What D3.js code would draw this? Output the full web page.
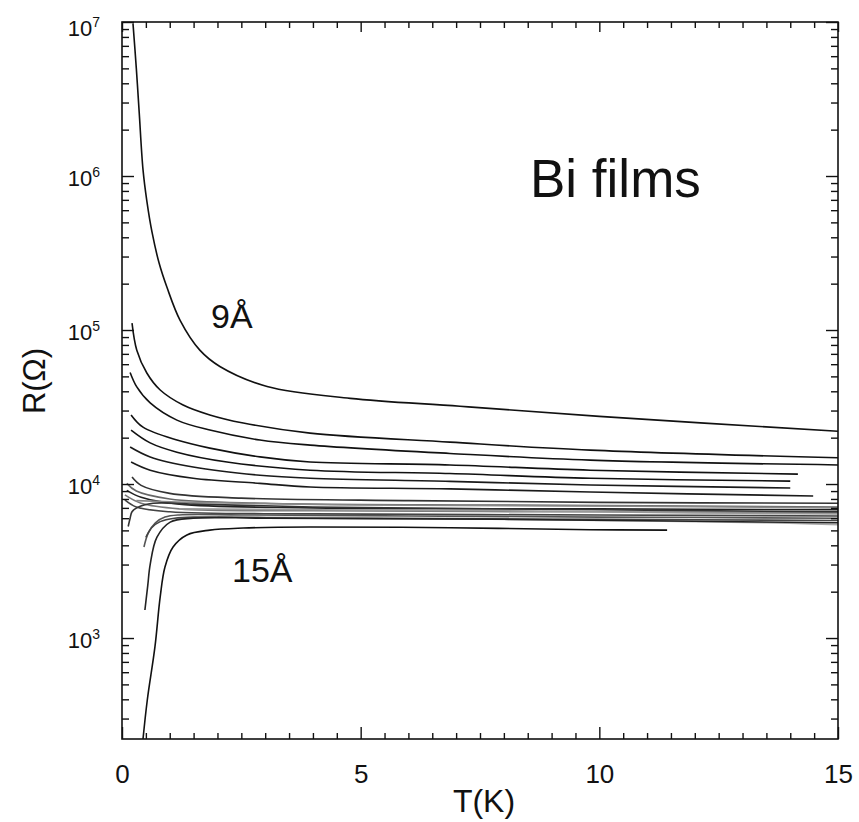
<!DOCTYPE html>
<html><head><meta charset="utf-8">
<script src="https://cdn.jsdelivr.net/npm/d3@7"></script>
<style>
body{margin:0;background:#fff}
svg{display:block}
text{font-family:"Liberation Sans",Arial,Helvetica,sans-serif;fill:#111}
</style>
</head><body>
<svg id="c" width="859" height="822"></svg>
<script>
// ---------------- DATA ----------------
const xMajorTicks = [0, 5, 10, 15];
const yDecades = [1e3, 1e4, 1e5, 1e6, 1e7];
const yExponents = ["3", "4", "5", "6", "7"];
const xLabel = "T(K)";
const yLabel = "R(Ω)";
const title = "Bi films";
const labelThin = "9Å";
const labelThick = "15Å";

// curves: temperature (K) and resistance (Ω)
const T_9A = [0.23, 0.30, 0.36, 0.44, 0.52, 0.63, 0.78, 0.94, 1.22, 1.63, 2.05, 3.04, 4.78, 7.08, 10, 15];
const R_9A = [9.8e6, 5.0e6, 2.6e6, 1.1e6, 6.9e5, 4.3e5, 2.7e5, 1.9e5, 1.15e5, 7.4e4, 5.8e4, 4.3e4, 3.6e4, 3.2e4, 2.75e4, 2.2e4];
const T_A = [0.21, 0.31, 0.52, 0.80, 1.28, 1.84, 2.54, 3.94, 6.87, 9.81, 15];
const R_A = [1.11e5, 7.4e4, 5.26e4, 4.08e4, 3.26e4, 2.81e4, 2.49e4, 2.14e4, 1.87e4, 1.66e4, 1.48e4];
const T_B = [0.17, 0.31, 0.59, 1.15, 1.84, 2.89, 3.94, 6.87, 9.81, 15];
const R_B = [5.3e4, 4.27e4, 3.36e4, 2.6e4, 2.24e4, 1.93e4, 1.79e4, 1.58e4, 1.43e4, 1.33e4];
const T_C = [0.19, 0.44, 1.15, 1.84, 2.89, 3.94, 6.87, 9.81, 14.16];
const R_C = [2.81e4, 2.34e4, 1.93e4, 1.71e4, 1.5e4, 1.39e4, 1.33e4, 1.23e4, 1.16e4];
const T_D = [0.19, 0.59, 1.15, 2.2, 3.94, 6.87, 9.81, 14.0];
const R_D = [2.24e4, 1.85e4, 1.61e4, 1.39e4, 1.23e4, 1.17e4, 1.09e4, 1.045e4];
const T_E = [0.17, 0.59, 1.49, 2.89, 3.94, 6.87, 9.81, 14.0];
const R_E = [1.74e4, 1.5e4, 1.29e4, 1.14e4, 1.09e4, 1.04e4, 9.86e3, 9.42e3];
const T_F = [0.19, 0.59, 1.49, 2.89, 3.94, 6.87, 9.81, 14.48];
const R_F = [1.39e4, 1.23e4, 1.09e4, 1.01e4, 9.57e3, 9.3e3, 8.87e3, 8.36e3];
const T_G1 = [0.21, 0.4, 1.0, 2.5, 6, 10, 15];
const R_G1 = [1.11e4, 9.8e3, 8.7e3, 8.1e3, 7.8e3, 7.6e3, 7.5e3];
const T_G2 = [0.10, 0.3, 1.0, 3, 8, 15];
const R_G2 = [1.01e4, 9.0e3, 8.0e3, 7.5e3, 7.3e3, 7.1e3];
const T_G3 = [0.10, 0.4, 1.2, 4, 10, 15];
const R_G3 = [9.1e3, 8.2e3, 7.4e3, 7.0e3, 6.9e3, 6.8e3];
const T_G4 = [0.06, 0.4, 1.2, 4, 10, 15];
const R_G4 = [8.5e3, 7.5e3, 6.9e3, 6.7e3, 6.6e3, 6.5e3];
const T_G5 = [0.06, 0.3, 1.0, 4, 10, 15];
const R_G5 = [7.9e3, 7.1e3, 6.6e3, 6.4e3, 6.3e3, 6.2e3];
const T_G6 = [0.3, 1.5, 5, 10, 15];
const R_G6 = [7.8e3, 7.6e3, 7.3e3, 7.2e3, 7.0e3];
const T_G7 = [1.2, 4, 8, 12, 15];
const R_G7 = [6.9e3, 6.8e3, 6.7e3, 6.5e3, 6.4e3];
const T_G8 = [2.0, 6, 10, 13.5, 15];
const R_G8 = [6.1e3, 6.0e3, 5.8e3, 5.6e3, 5.45e3];
const T_H = [0.13, 0.17, 0.21, 0.31, 0.65, 1.5, 4, 10, 15];
const R_H = [5.3e3, 6.0e3, 6.6e3, 7.0e3, 7.5e3, 7.4e3, 7.1e3, 6.8e3, 6.6e3];
const T_S1 = [0.46, 0.55, 0.7, 0.9, 1.2, 2.5, 6, 10, 15];
const R_S1 = [3.9e3, 4.8e3, 5.6e3, 6.1e3, 6.3e3, 6.3e3, 6.2e3, 6.1e3, 6.0e3];
const T_S2 = [0.5, 0.62, 0.8, 1.1, 1.6, 4, 10, 15];
const R_S2 = [4.5e3, 5.2e3, 5.7e3, 6.0e3, 6.1e3, 6.0e3, 5.9e3, 5.8e3];
const T_S3 = [0.48, 0.54, 0.59, 0.73, 1.01, 1.49, 3, 8, 15];
const R_S3 = [1.52e3, 2.2e3, 3.0e3, 4.5e3, 5.66e3, 6.0e3, 6.0e3, 5.9e3, 5.6e3];
const T_15A = [0.44, 0.53, 0.69, 0.80, 0.90, 1.07, 1.36, 1.84, 2.54, 3.94, 6.87, 9.81, 11.42];
const R_15A = [221, 396, 875, 1.85e3, 2.89e3, 3.9e3, 4.67e3, 5.02e3, 5.18e3, 5.26e3, 5.2e3, 5.05e3, 5.02e3];

const curveT = [T_9A, T_A, T_B, T_C, T_D, T_E, T_F, T_G1, T_G2, T_G3, T_G4, T_G5, T_G6, T_G7, T_G8, T_H, T_S1, T_S2, T_S3, T_15A];
const curveR = [R_9A, R_A, R_B, R_C, R_D, R_E, R_F, R_G1, R_G2, R_G3, R_G4, R_G5, R_G6, R_G7, R_G8, R_H, R_S1, R_S2, R_S3, R_15A];

// ---------------- DRAWING ----------------
const svg = d3.select("#c");
const L = 122, R = 838, Tp = 22, B = 739;
const x = d3.scaleLinear().domain([0, 15]).range([L, R]);
const y = d3.scaleLog().domain([221, 1e7]).range([B, Tp]);

svg.append("defs").append("clipPath").attr("id", "clip")
  .append("rect").attr("x", L).attr("y", Tp).attr("width", R - L).attr("height", B - Tp);

// curves
const tones = ["#111","#111","#111","#111","#111","#1a1a1a","#1a1a1a",
               "#333","#666","#222","#777","#444","#888","#999","#aaa",
               "#333","#555","#444","#222","#111"];
const line = d3.line().x(d => x(d[0])).y(d => y(d[1])).curve(d3.curveCatmullRom.alpha(0.5));
const g = svg.append("g").attr("clip-path", "url(#clip)");
curveT.forEach((ts, i) => {
  const pts = ts.map((t, j) => [t, curveR[i][j]]);
  g.append("path").attr("d", line(pts)).attr("fill", "none")
    .attr("stroke", tones[i]).attr("stroke-width", 1.6);
});

// minor ticks for log axis
const minorVals = [];
for (let k = 2; k <= 6; k++) for (let m = 2; m <= 9; m++) {
  const v = m * Math.pow(10, k);
  if (v >= 221 && v <= 1e7) minorVals.push(v);
}
const halfT = d3.range(0.5, 15, 0.5).filter(t => xMajorTicks.indexOf(t) < 0);

function styleAxis(sel) {
  sel.select(".domain").remove();
  sel.selectAll("line").attr("stroke", "#111").attr("stroke-width", 1.4);
}

// bottom
svg.append("g").attr("transform", `translate(0,${B})`)
  .call(d3.axisBottom(x).tickValues(halfT).tickSize(-6).tickFormat("")).call(styleAxis);
svg.append("g").attr("transform", `translate(0,${B})`)
  .call(d3.axisBottom(x).tickValues(xMajorTicks).tickSize(-12).tickPadding(26).tickFormat(d3.format("d")))
  .call(styleAxis)
  .selectAll("text").attr("font-size", 26).attr("fill", "#111");
// top
svg.append("g").attr("transform", `translate(0,${Tp})`)
  .call(d3.axisTop(x).tickValues(halfT).tickSize(-6).tickFormat("")).call(styleAxis);
svg.append("g").attr("transform", `translate(0,${Tp})`)
  .call(d3.axisTop(x).tickValues(xMajorTicks).tickSize(-10).tickFormat("")).call(styleAxis);
// left
svg.append("g").attr("transform", `translate(${L},0)`)
  .call(d3.axisLeft(y).tickValues(minorVals).tickSize(-7).tickFormat("")).call(styleAxis);
const leftMajor = svg.append("g").attr("transform", `translate(${L},0)`)
  .call(d3.axisLeft(y).tickValues(yDecades).tickSize(-12).tickPadding(22).tickFormat(() => ""))
  .call(styleAxis);
leftMajor.selectAll(".tick text").each(function(d) {
  const t = d3.select(this);
  t.attr("dy", null).attr("y", d === 1e7 ? 13 : 9).attr("font-size", 22).attr("fill", "#111");
  t.text("10");
  t.append("tspan").attr("dy", -9).attr("font-size", 14).text(yExponents[yDecades.indexOf(d)]);
});
// right
svg.append("g").attr("transform", `translate(${R},0)`)
  .call(d3.axisRight(y).tickValues(minorVals).tickSize(-7).tickFormat("")).call(styleAxis);
svg.append("g").attr("transform", `translate(${R},0)`)
  .call(d3.axisRight(y).tickValues(yDecades).tickSize(-12).tickFormat("")).call(styleAxis);

// frame
svg.append("rect").attr("x", L).attr("y", Tp).attr("width", R - L).attr("height", B - Tp)
  .attr("fill", "none").attr("stroke", "#111").attr("stroke-width", 1.6);

// labels
svg.append("text").attr("x", 484).attr("y", 812).attr("text-anchor", "middle")
  .attr("font-size", 32).text(xLabel);
svg.append("text").attr("transform", "translate(45,381) rotate(-90)").attr("text-anchor", "middle")
  .attr("font-size", 31).text(yLabel);
svg.append("text").attr("x", 530).attr("y", 197).attr("font-size", 53).text(title);
svg.append("text").attr("x", 211).attr("y", 328).attr("font-size", 34).text(labelThin);
svg.append("text").attr("x", 232).attr("y", 582).attr("font-size", 34).text(labelThick);
</script>
</body></html>
